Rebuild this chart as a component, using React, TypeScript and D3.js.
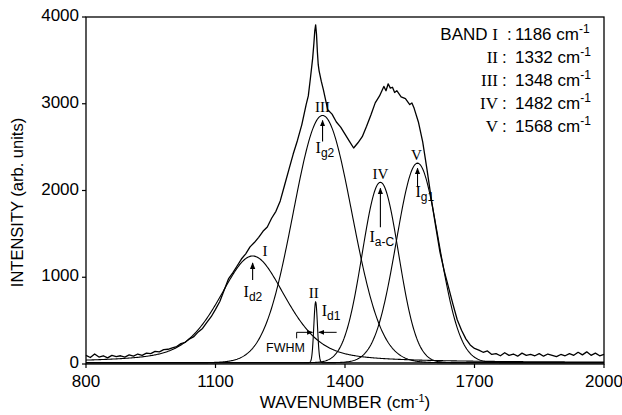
import * as d3 from "d3";

// fitted bands (legend positions, read-off heights / widths)
const bandNames = ["I", "II", "III", "IV", "V"];
const bandCenters = [1186, 1332, 1348, 1482, 1568];
const bandHeights = [1230, 700, 2850, 2080, 2300];
const bandFwhm = [185, 10, 160, 99, 116];
const bandLorentz = [0.45, 0, 0, 0, 0];
const bandTags = ["d2", "d1", "g2", "a-C", "g1"];
const fitBaseline = 15;

const specWavenumber = [
  800, 810, 820, 830, 840, 850, 860, 870, 880, 890, 900, 910, 920, 930, 940, 950, 960, 970, 980, 990,
  1000, 1010, 1020, 1030, 1040, 1050, 1060, 1070, 1080, 1090, 1100, 1110, 1120, 1130, 1140, 1150,
  1160, 1170, 1180, 1190, 1200, 1210, 1220, 1230, 1240, 1250, 1260, 1270, 1280, 1290, 1300, 1310,
  1315, 1320, 1325, 1328, 1330, 1332, 1334, 1336, 1338, 1340, 1345, 1350, 1360, 1370, 1380, 1390,
  1400, 1410, 1420, 1430, 1440, 1450, 1460, 1470, 1480, 1490, 1495, 1500, 1505, 1510, 1515, 1520,
  1530, 1540, 1550, 1555, 1560, 1570, 1580, 1590, 1600, 1610, 1620, 1630, 1640, 1650, 1660, 1670,
  1680, 1690, 1700, 1710, 1720, 1730, 1740, 1750, 1760, 1770, 1780, 1790, 1800, 1810, 1820, 1830,
  1840, 1850, 1860, 1870, 1880, 1890, 1900, 1910, 1920, 1930, 1940, 1950, 1960, 1970, 1980, 1990, 2000,
];
const specIntensity = [
  100, 75, 115, 80, 95, 70, 100, 85, 95, 80, 105, 90, 115, 100, 125, 120, 145, 140, 165, 170,
  185, 200, 235, 250, 290, 315, 370, 410, 480, 545, 630, 720, 850, 980, 1050, 1130,
  1210, 1270, 1350, 1400, 1460, 1530, 1580, 1680, 1760, 1880, 2060, 2240, 2420, 2580, 2760, 2990,
  3090, 3300, 3520, 3700, 3840, 3910, 3800, 3600, 3450, 3380, 3260, 3160, 2930, 2880, 2790, 2730,
  2650, 2570, 2490, 2550, 2620, 2740, 2870, 3010, 3090, 3200, 3150, 3230, 3180, 3190, 3130, 3150,
  3080, 3060, 2990, 3010, 2950, 2790, 2560, 2240, 1900, 1590, 1290, 1070, 880, 690, 510, 390,
  290, 220, 180, 160, 135, 150, 110, 120, 95, 130, 100, 115, 90, 125, 100, 110,
  95, 120, 90, 115, 100, 85, 110, 95, 120, 100, 135, 105, 140, 100, 125, 95, 110,
];

const xTicks = [800, 1100, 1400, 1700, 2000];
const yTicks = [0, 1000, 2000, 3000, 4000];

const W = 622;
const H = 415;
const left = 86, right = 604, top = 17, bottom = 364;

const SANS = "'Liberation Sans', Arial, sans-serif";
const SERIF = "'Liberation Serif', 'Times New Roman', serif";

function bandValue(i: number, x: number) {
  const dx = (x - bandCenters[i]) / bandFwhm[i];
  const g = Math.exp(-4 * Math.LN2 * dx * dx);
  const l = 1 / (1 + 4 * dx * dx);
  const eta = bandLorentz[i];
  return fitBaseline + bandHeights[i] * ((1 - eta) * g + eta * l);
}

// label placement (pixel offsets from each band apex)
const labelOffsets = [
  { name: [10, 0], arrow: [24, 7], tag: [-9, 41] },
  { name: [-2, -4], arrow: null, tag: [6, 14] },
  { name: [0, -3], arrow: [26, 5], tag: [-7, 38] },
  { name: [0, -3], arrow: [45, 6], tag: [-11, 60] },
  { name: [-1, -3], arrow: [24, 5], tag: [-2, 34] },
];

export default function App() {
  const x = d3.scaleLinear().domain([800, 2000]).range([left, right]);
  const y = d3.scaleLinear().domain([0, 4000]).range([bottom, top]);

  const line = d3
    .line<[number, number]>()
    .x((d) => x(d[0]))
    .y((d) => y(d[1]));

  const fits = bandNames.map((_, i) => {
    const step = bandFwhm[i] < 30 ? 0.5 : 2;
    const pts: [number, number][] = [];
    for (let w = 800; w <= 2000; w += step) pts.push([w, bandValue(i, w)]);
    return line(pts) || "";
  });

  const spectrum = line(specWavenumber.map((w, i) => [w, specIntensity[i]] as [number, number])) || "";

  // FWHM arrows on band II
  const half = y(bandHeights[1] / 2 + fitBaseline);
  const hw = x(bandCenters[1] + bandFwhm[1] / 2) - x(bandCenters[1]);
  const cx2 = x(bandCenters[1]);

  return (
    <svg width={W} height={H} style={{ position: "absolute", left: 0, top: 0, background: "#fff" }}>
      <defs>
        <marker id="ah" viewBox="0 0 10 10" refX="9" refY="5" markerWidth="6" markerHeight="6" orient="auto-start-reverse">
          <path d="M0,1 L10,5 L0,9 z" fill="#000" />
        </marker>
      </defs>

      {/* frame */}
      <rect x={left} y={top} width={right - left} height={bottom - top} fill="none" stroke="#000" strokeWidth={1.3} />

      {/* ticks */}
      {xTicks.map((t) => (
        <g key={"x" + t}>
          <line x1={x(t)} x2={x(t)} y1={bottom} y2={bottom + 4} stroke="#000" strokeWidth={1.2} />
          <text x={x(t)} y={bottom + 23} textAnchor="middle" fontFamily={SANS} fontSize={17}>
            {t}
          </text>
        </g>
      ))}
      {yTicks.map((t) => (
        <g key={"y" + t}>
          <line x1={left - 4} x2={left} y1={y(t)} y2={y(t)} stroke="#000" strokeWidth={1.2} />
          <text x={left - 7} y={y(t) + 4} textAnchor="end" fontFamily={SANS} fontSize={17}>
            {t}
          </text>
        </g>
      ))}

      {/* axis titles */}
      <text x={(left + right) / 2} y={408} textAnchor="middle" fontFamily={SANS} fontSize={17}>
        WAVENUMBER (cm<tspan dy={-6} fontSize={11}>-1</tspan>
        <tspan dy={6}>)</tspan>
      </text>
      <text
        transform={`translate(23,${(top + bottom) / 2 + 12}) rotate(-90)`}
        textAnchor="middle"
        fontFamily={SANS}
        fontSize={16.5}
      >
        INTENSITY (arb. units)
      </text>

      {/* fitted bands */}
      {fits.map((d, i) => (
        <path key={"f" + i} d={d} fill="none" stroke="#000" strokeWidth={1.1} />
      ))}

      {/* measured spectrum */}
      <path d={spectrum} fill="none" stroke="#000" strokeWidth={1.3} strokeLinejoin="round" />

      {/* band labels */}
      {bandNames.map((name, i) => {
        const px = x(bandCenters[i]);
        const py = y(bandHeights[i] + fitBaseline);
        const o = labelOffsets[i];
        return (
          <g key={"l" + i}>
            <text x={px + o.name[0]} y={py + o.name[1]} textAnchor={i === 0 ? "start" : "middle"} fontFamily={SERIF} fontSize={15}>
              {name}
            </text>
            {o.arrow && (
              <line x1={px} x2={px} y1={py + o.arrow[0]} y2={py + o.arrow[1]} stroke="#000" strokeWidth={1.1} markerEnd="url(#ah)" />
            )}
            <text x={px + o.tag[0]} y={py + o.tag[1]} fontFamily={SERIF} fontSize={16}>
              I
              <tspan dy={4} fontFamily={SANS} fontSize={12}>
                {bandTags[i]}
              </tspan>
            </text>
          </g>
        );
      })}

      {/* FWHM marker */}
      <path d={`M${cx2 - 19},${half + 6} V${half} H${cx2 - hw - 1}`} fill="none" stroke="#000" strokeWidth={1} markerEnd="url(#ah)" />
      <line x1={cx2 + 21} x2={cx2 + hw + 1} y1={half} y2={half} stroke="#000" strokeWidth={1} markerEnd="url(#ah)" />
      <text x={266} y={352} fontFamily={SANS} fontSize={12.5}>
        FWHM
      </text>

      {/* legend */}
      {bandNames.map((name, i) => {
        const ly = 40 + i * 23;
        return (
          <g key={"g" + i}>
            <text x={498} y={ly} textAnchor="end" fontSize={17}>
              {i === 0 && <tspan fontFamily={SANS}>BAND </tspan>}
              <tspan fontFamily={SERIF}>{name}</tspan>
            </text>
            <text x={i === 0 ? 507 : 502} y={ly} fontFamily={SANS} fontSize={17}>
              :
            </text>
            <text x={515} y={ly} fontFamily={SANS} fontSize={17}>
              {bandCenters[i]} cm<tspan dy={-7} fontSize={12}>-1</tspan>
            </text>
          </g>
        );
      })}
    </svg>
  );
}
